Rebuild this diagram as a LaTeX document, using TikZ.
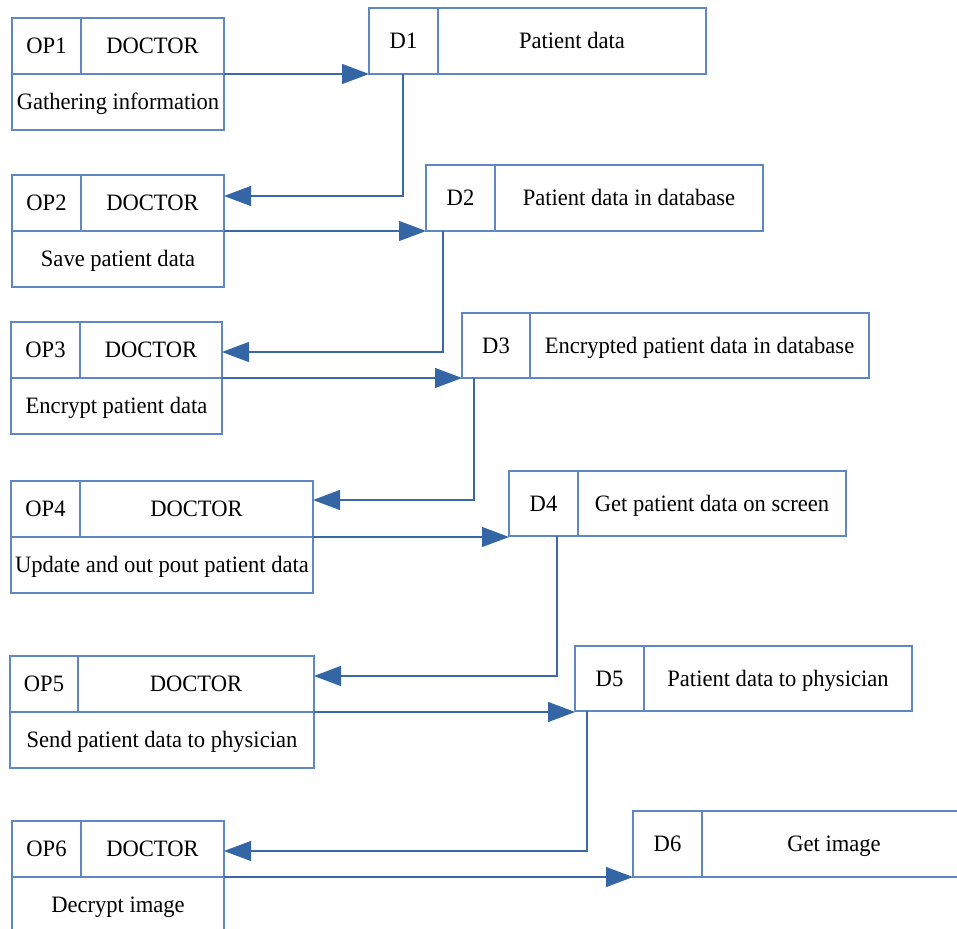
\documentclass[tikz,border=0pt]{standalone}
\usepackage{fontspec}
\setmainfont{Liberation Serif}[FakeStretch=0.96]
\usetikzlibrary{arrows.meta}
\definecolor{boxc}{RGB}{95,135,196}
\definecolor{linec}{RGB}{58,104,168}
\definecolor{tipc}{RGB}{52,101,164}
\begin{document}
\begin{tikzpicture}[x=1pt,y=-1pt,
  cell/.style={draw=boxc, line width=1.1pt, inner sep=0pt, outer sep=0pt, anchor=north west,
    align=center, text height=18pt, text depth=2.4pt, font=\fontsize{23.5}{28}\selectfont, text=black},
  arr/.style={draw=linec, line width=1.1pt, -{Triangle[length=27pt,width=20pt,fill=tipc,color=tipc]}}]
\useasboundingbox (0,0) rectangle (957,928);
% OP1
\node[cell, minimum width=69pt, minimum height=56pt] (op1id) at (12,18) {OP1};
\node[cell, minimum width=143pt, minimum height=56pt] (op1role) at (81,18) {DOCTOR};
\node[cell, minimum width=212pt, minimum height=56pt] (op1desc) at (12,74) {Gathering information};
% OP2
\node[cell, minimum width=69pt, minimum height=56pt] (op2id) at (12,175) {OP2};
\node[cell, minimum width=143pt, minimum height=56pt] (op2role) at (81,175) {DOCTOR};
\node[cell, minimum width=212pt, minimum height=56pt] (op2desc) at (12,231) {Save patient data};
% OP3
\node[cell, minimum width=69pt, minimum height=56pt] (op3id) at (11,322) {OP3};
\node[cell, minimum width=142pt, minimum height=56pt] (op3role) at (80,322) {DOCTOR};
\node[cell, minimum width=211pt, minimum height=56pt] (op3desc) at (11,378) {Encrypt patient data};
% OP4
\node[cell, minimum width=69pt, minimum height=56pt] (op4id) at (11,481) {OP4};
\node[cell, minimum width=233pt, minimum height=56pt] (op4role) at (80,481) {DOCTOR};
\node[cell, minimum width=302pt, minimum height=56pt] (op4desc) at (11,537) {Update and out pout patient data};
% OP5
\node[cell, minimum width=68pt, minimum height=56pt] (op5id) at (10,656) {OP5};
\node[cell, minimum width=236pt, minimum height=56pt] (op5role) at (78,656) {DOCTOR};
\node[cell, minimum width=304pt, minimum height=56pt] (op5desc) at (10,712) {Send patient data to physician};
% OP6
\node[cell, minimum width=69pt, minimum height=56pt] (op6id) at (12,821) {OP6};
\node[cell, minimum width=143pt, minimum height=56pt] (op6role) at (81,821) {DOCTOR};
\node[cell, minimum width=212pt, minimum height=56pt] (op6desc) at (12,877) {Decrypt image};
% D boxes
\node[cell, minimum width=69pt, minimum height=66pt] (d1id) at (369,8) {D1};
\node[cell, minimum width=268pt, minimum height=66pt] (d1txt) at (438,8) {Patient data};
\node[cell, minimum width=69pt, minimum height=66pt] (d2id) at (426,165) {D2};
\node[cell, minimum width=268pt, minimum height=66pt] (d2txt) at (495,165) {Patient data in database};
\node[cell, minimum width=68pt, minimum height=65pt] (d3id) at (462,313) {D3};
\node[cell, minimum width=339pt, minimum height=65pt] (d3txt) at (530,313) {Encrypted patient data in database};
\node[cell, minimum width=69pt, minimum height=65pt] (d4id) at (509,471) {D4};
\node[cell, minimum width=268pt, minimum height=65pt] (d4txt) at (578,471) {Get patient data on screen};
\node[cell, minimum width=69pt, minimum height=65pt] (d5id) at (575,646) {D5};
\node[cell, minimum width=268pt, minimum height=65pt] (d5txt) at (644,646) {Patient data to physician};
\node[cell, minimum width=69pt, minimum height=66pt] (d6id) at (633,811) {D6};
\node[cell, minimum width=264pt, minimum height=66pt] (d6txt) at (702,811) {Get image};
% connectors
\draw[arr] (op1desc.north east) -- (op1desc.north east -| d1id.west);
\draw[arr] ([xshift=34pt]d1id.south west) |- ([yshift=-21pt]op2role.north east);
\draw[arr] (op2desc.north east) -- (op2desc.north east -| d2id.west);
\draw[arr] ([xshift=17pt]d2id.south west) |- ([yshift=-30pt]op3role.north east);
\draw[arr] (op3desc.north east) -- (op3desc.north east -| d3id.west);
\draw[arr] ([xshift=12pt]d3id.south west) |- ([yshift=-19pt]op4role.north east);
\draw[arr] (op4desc.north east) -- (op4desc.north east -| d4id.west);
\draw[arr] ([xshift=48pt]d4id.south west) |- ([yshift=-20pt]op5role.north east);
\draw[arr] (op5desc.north east) -- (op5desc.north east -| d5id.west);
\draw[arr] ([xshift=12pt]d5id.south west) |- ([yshift=-30pt]op6role.north east);
\draw[arr] (op6desc.north east) -- (op6desc.north east -| d6id.west);
\end{tikzpicture}
\end{document}
